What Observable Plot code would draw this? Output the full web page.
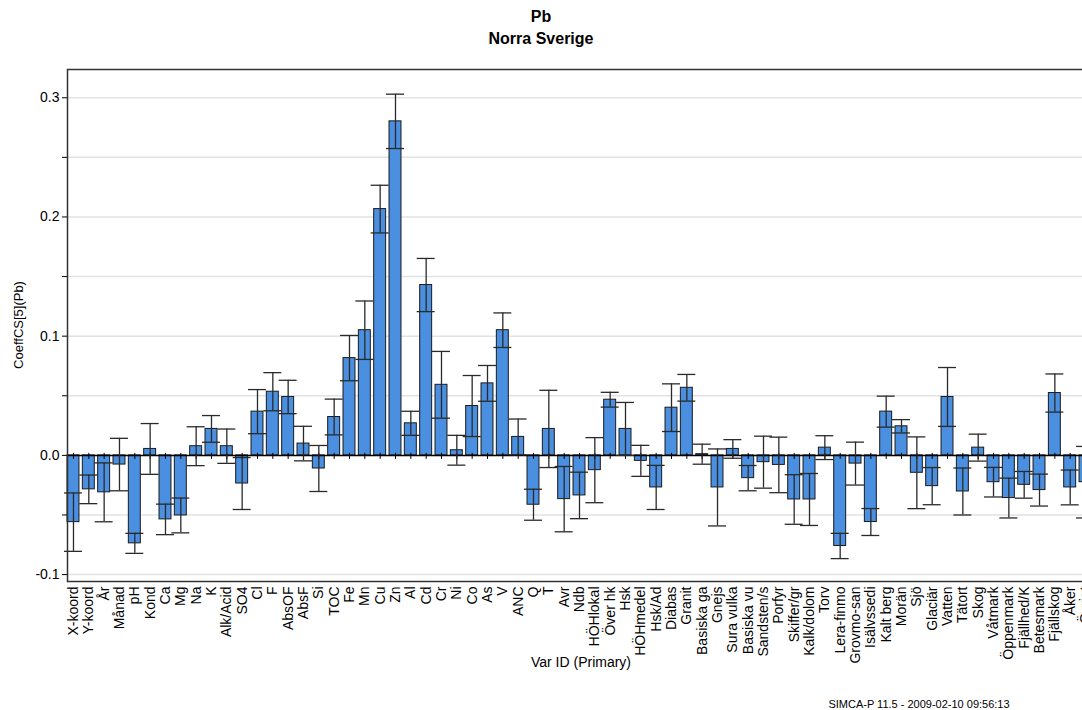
<!DOCTYPE html>
<html>
<head>
<meta charset="utf-8">
<script src="https://cdn.jsdelivr.net/npm/d3@7"></script>
<script src="https://cdn.jsdelivr.net/npm/@observablehq/plot@0.6"></script>
<style>
  html, body { margin: 0; padding: 0; overflow: hidden; width: 1082px; height: 710px; background: #fff; }
  body { position: relative; font-family: "Liberation Sans", Arial, sans-serif; }
  #title { position: absolute; left: 0; top: 6px; width: 1082px; text-align: center; font-weight: bold; font-size: 16px; line-height: 22px; color: #000; }
  #chart { position: absolute; left: 0; top: 55px; width: 1100px; }
  #chart svg { max-width: none !important; }
  #ylab { position: absolute; left: 18px; top: 325px; transform: translate(-50%, -50%) rotate(-90deg); font-size: 13px; white-space: nowrap; color: #000; }
  #xlab { position: absolute; left: 581px; top: 662px; transform: translate(-50%, -50%); font-size: 14px; white-space: nowrap; color: #000; }
  #foot { position: absolute; left: 919px; top: 704px; transform: translate(-50%, -50%); font-size: 11px; white-space: nowrap; color: #000; }
</style>
</head>
<body>
<div id="title">Pb<br>Norra Sverige</div>
<div id="chart"></div>
<div id="ylab">CoeffCS[5](Pb)</div>
<div id="xlab">Var ID (Primary)</div>
<div id="foot">SIMCA-P 11.5 - 2009-02-10 09:56:13</div>
<script>
const names = ["X-koord","Y-koord","År","Månad","pH","Kond","Ca","Mg","Na","K","Alk/Acid","SO4","Cl","F","AbsOF","AbsF","Si","TOC","Fe","Mn","Cu","Zn","Al","Cd","Cr","Ni","Co","As","V","ANC","Q","T","Avr","Ndb","HÖHlokal","Över hk","Hsk","HÖHmedel","Hsk/Ad","Diabas","Granit","Basiska ga","Gnejs","Sura vulka","Basiska vu","Sandsten/s","Porfyr","Skiffer/gr","Kalk/dolom","Torv","Lera-finmo","Grovmo-san","Isälvssedi","Kalt berg","Morän","Sjö","Glaciär","Vatten","Tätort","Skog","Våtmark","Öppenmark","Fjällhed/K","Betesmark","Fjällskog","Åker","Övrigt"];
const coef = [-0.056,-0.0285,-0.031,-0.0077,-0.0738,0.0054,-0.0537,-0.0504,0.0077,0.0222,0.0077,-0.0236,0.0367,0.0534,0.049,0.0099,-0.011,0.0322,0.0816,0.105,0.2066,0.2802,0.0269,0.1429,0.0592,0.0043,0.0414,0.0604,0.105,0.0155,-0.0414,0.0222,-0.0367,-0.0336,-0.0124,0.0467,0.0222,-0.0046,-0.0269,0.04,0.0567,0.001,-0.0269,0.0054,-0.0191,-0.0057,-0.008,-0.037,-0.037,0.0065,-0.076,-0.0069,-0.0559,0.0367,0.0244,-0.0146,-0.0258,0.049,-0.0303,0.0065,-0.0225,-0.0358,-0.0247,-0.0291,0.0523,-0.0269,-0.0225];
const ci = [0.0245,0.012,0.0247,0.022,0.0084,0.0213,0.0128,0.0146,0.0163,0.0112,0.0144,0.0218,0.0185,0.016,0.014,0.0145,0.0193,0.015,0.019,0.0245,0.02,0.0228,0.0101,0.0223,0.028,0.0125,0.0256,0.015,0.0145,0.015,0.013,0.0324,0.0274,0.0195,0.0273,0.0062,0.0222,0.013,0.0185,0.02,0.0112,0.0084,0.0323,0.0078,0.0106,0.0218,0.0233,0.0208,0.0218,0.01,0.0106,0.018,0.0113,0.013,0.0056,0.0301,0.0156,0.0247,0.0197,0.0113,0.0124,0.0167,0.0112,0.0134,0.016,0.0146,0.030];
const yMajor = [-0.1, 0.0, 0.1, 0.2, 0.3];
const yMinor = [-0.05, 0.05, 0.15, 0.25];
const yGrid = [-0.1, -0.05, 0.05, 0.1, 0.15, 0.2, 0.25, 0.3];

const data = names.map((n, i) => ({name: n, v: coef[i], lo: coef[i] - ci[i], hi: coef[i] + ci[i]}));

const chart = Plot.plot({
  width: 1100,
  height: 655,
  marginLeft: 67,
  marginRight: 9,
  marginTop: 14,
  marginBottom: 129,
  style: {fontFamily: "'Liberation Sans', Arial, sans-serif", fontSize: "14px", color: "#000", background: "transparent", maxWidth: "none"},
  x: {type: "band", domain: names, paddingInner: 0.22, paddingOuter: 0, round: false, label: null},
  y: {domain: [-0.1058, 0.3237], label: null},
  marks: [
    Plot.gridY(yGrid, {stroke: "#e2e2e2", strokeOpacity: 1, strokeWidth: 1.5}),
    Plot.barY(data, {x: "name", y: "v", fill: "#4a8fe0", stroke: "#1a1a1a", strokeWidth: 1}),
    Plot.ruleY([0], {stroke: "#000", strokeWidth: 1.5}),
    Plot.ruleX(data, {x: "name", y1: -0.0034, y2: 0.0017, stroke: "#000", strokeWidth: 1}),
    Plot.ruleX(data, {x: "name", y1: "lo", y2: "hi", stroke: "#2a2a2a", strokeWidth: 1.3}),
    Plot.tickY(data, {x: "name", y: "lo", stroke: "#2a2a2a", strokeWidth: 1.3, insetLeft: -3, insetRight: -3}),
    Plot.tickY(data, {x: "name", y: "hi", stroke: "#2a2a2a", strokeWidth: 1.3, insetLeft: -3, insetRight: -3}),
    Plot.axisY(yMajor, {tickFormat: d => d.toFixed(1), tickSize: 5, tickPadding: 3, fontSize: 14, label: null}),
    Plot.axisY(yMinor, {tickFormat: () => "", tickSize: 5, label: null}),
    Plot.axisX({tickRotate: -90, tickSize: 0, tickPadding: 5, fontSize: 14, label: null}),
    Plot.frame({stroke: "#333", strokeWidth: 1.5})
  ]
});
document.getElementById("chart").appendChild(chart);
</script>
</body>
</html>
